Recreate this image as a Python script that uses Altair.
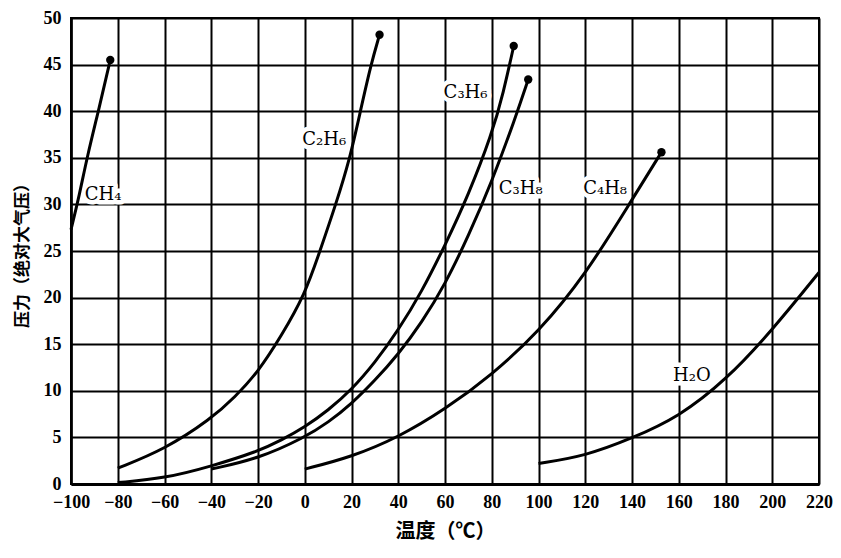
import altair as alt
import pandas as pd

# ---- data ----
ch4_t = [-100, -96.4, -93.2, -87.8, -83.2]
ch4_p = [27.3, 31.0, 35.0, 40.5, 45.5]

c2h6_t = [-80, -60, -40, -30, -20, -10, 0, 6.5, 13.3, 19.4, 23.8, 28.3, 32]
c2h6_p = [1.7, 3.7, 7.0, 9.3, 12.0, 15.9, 20.3, 25, 30, 35, 40, 45, 48.2]

c3h6_t = [-80, -60, -40, -20, -10, 0, 10, 20, 30, 40, 50, 60, 70, 80, 85, 89.4]
c3h6_p = [0.15, 0.6, 1.9, 3.5, 4.7, 6.1, 7.9, 10.1, 13.0, 16.5, 20.6, 25.6, 31.0, 37.5, 42.0, 47]

c3h8_t = [-40, -20, 0, 10, 20, 30, 40, 50, 60, 70, 80, 90, 95.6]
c3h8_p = [1.6, 2.7, 5.0, 6.6, 8.6, 11.1, 13.9, 17.3, 21.4, 26.6, 32.4, 39.2, 43.4]

c4h8_t = [0, 20, 40, 60, 80, 100, 120, 140, 152.6]
c4h8_p = [1.6, 2.9, 5.0, 8.0, 11.7, 16.3, 22.4, 30.5, 35.6]

h2o_t = [100, 120, 140, 160, 180, 200, 220]
h2o_p = [2.2, 3.0, 4.9, 7.2, 11.1, 16.5, 22.7]

series_names = ["CH4", "C2H6", "C3H6", "C3H8", "C4H8", "H2O"]
series_t = [ch4_t, c2h6_t, c3h6_t, c3h8_t, c4h8_t, h2o_t]
series_p = [ch4_p, c2h6_p, c3h6_p, c3h8_p, c4h8_p, h2o_p]
# series ending in a critical-point dot
dot_series = ["CH4", "C2H6", "C3H6", "C3H8", "C4H8"]

label_text = ["CH₄", "C₂H₆", "C₃H₆", "C₃H₈", "C₄H₈", "H₂O"]
label_t = [-86.3, 8.3, 68.8, 92.4, 128.5, 165.6]
label_p = [31.0, 36.9, 42.0, 31.7, 31.6, 11.6]

x_ticks = list(range(-100, 221, 20))
y_ticks = list(range(0, 51, 5))

# ---- tables ----
rows = []
for name, ts, ps in zip(series_names, series_t, series_p):
    for t, p in zip(ts, ps):
        rows.append({"series": name, "T": t, "P": p})
lines_df = pd.DataFrame(rows)

dots_df = pd.DataFrame([
    {"series": n, "T": ts[-1], "P": ps[-1]}
    for n, ts, ps in zip(series_names, series_t, series_p) if n in dot_series
])

labels_df = pd.DataFrame({"label": label_text, "T": label_t, "P": label_p})

xs = alt.Scale(domain=[-100, 220], nice=False, zero=False)
ys = alt.Scale(domain=[0, 50], nice=False)

x_axis = alt.Axis(
    values=x_ticks, title="温度（℃）", grid=True, ticks=False, labelFlush=False,
    labelFont="Liberation Serif", labelFontWeight="bold", labelFontSize=18,
    labelColor="black", labelPadding=9,
    titleFont="Noto Sans CJK SC", titleFontWeight="bold", titleFontSize=20,
    titleColor="black", titlePadding=10,
    domainColor="black", domainWidth=3,
    gridColor="black", gridWidth=2, gridOpacity=1,
)
y_axis = alt.Axis(
    values=y_ticks, title="压力（绝对大气压）", grid=True, ticks=False,
    labelFont="Liberation Serif", labelFontWeight="bold", labelFontSize=18,
    labelColor="black", labelPadding=10,
    titleFont="Noto Sans CJK SC", titleFontWeight="bold", titleFontSize=17,
    titleColor="black", titlePadding=12,
    domainColor="black", domainWidth=2.5,
    gridColor="black", gridWidth=2, gridOpacity=1,
)

base = alt.Chart(lines_df)

lines = base.mark_line(color="black", strokeWidth=3, interpolate="basis").encode(
    x=alt.X("T:Q", scale=xs, axis=x_axis),
    y=alt.Y("P:Q", scale=ys, axis=y_axis),
    detail="series:N",
)

dots = alt.Chart(dots_df).mark_circle(color="black", size=70, opacity=1).encode(
    x=alt.X("T:Q", scale=xs),
    y=alt.Y("P:Q", scale=ys),
)

halo = alt.Chart(labels_df).mark_text(
    font="DejaVu Serif", fontSize=18, stroke="white", strokeWidth=9,
    strokeJoin="round", fill="white",
).encode(x=alt.X("T:Q", scale=xs), y=alt.Y("P:Q", scale=ys), text="label:N")

labels = alt.Chart(labels_df).mark_text(
    font="DejaVu Serif", fontSize=18, color="black",
).encode(x=alt.X("T:Q", scale=xs), y=alt.Y("P:Q", scale=ys), text="label:N")

chart = alt.layer(halo, lines, dots, labels).properties(
    width=748, height=466,
    autosize=alt.AutoSizeParams(type="none"),
    padding={"left": 63, "top": 10, "right": 14, "bottom": 66},
    background="white",
).configure_view(stroke="black", strokeWidth=2)

chart.save("out.html", embed_options={"renderer": "svg", "actions": False})
